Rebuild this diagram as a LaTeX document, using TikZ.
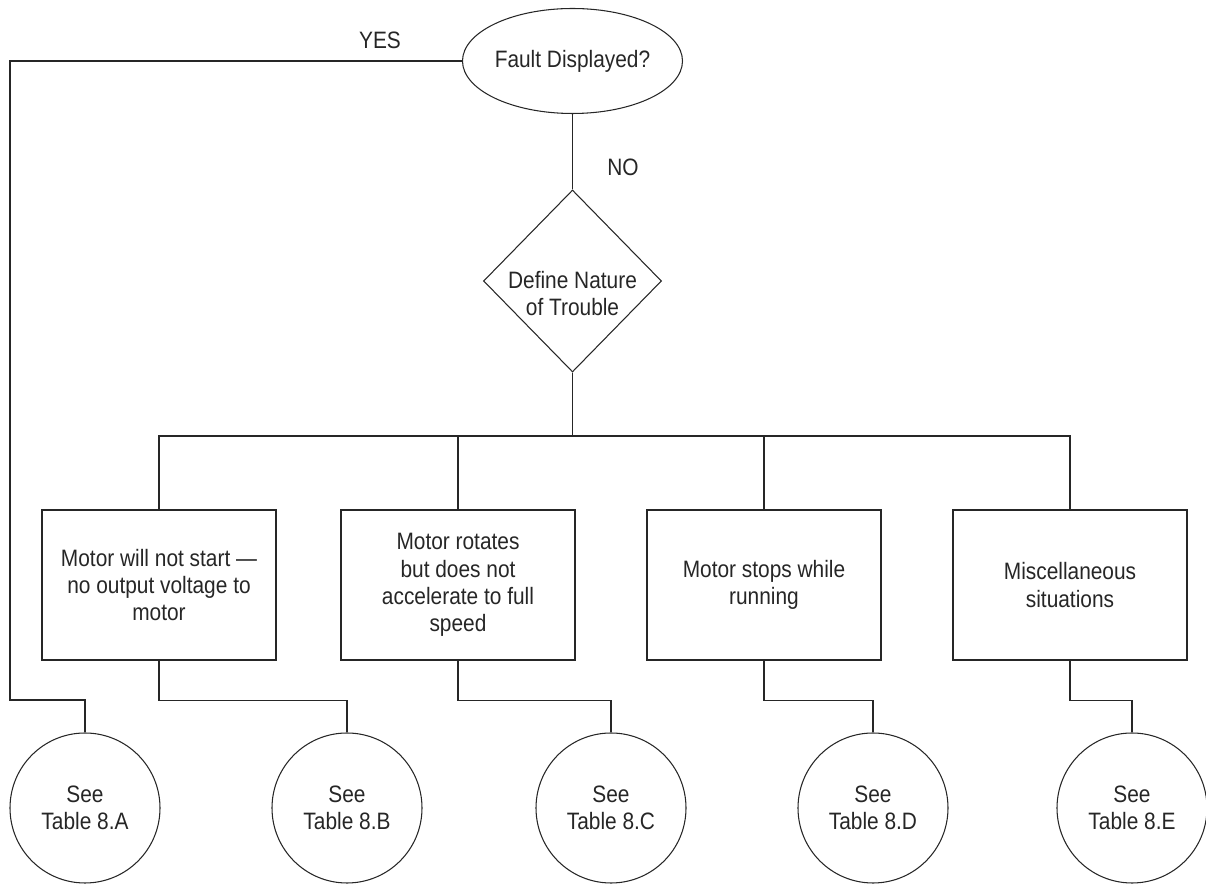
\documentclass[tikz,border=0pt]{standalone}
\usepackage{fontspec}
\setmainfont{Liberation Sans}[FakeStretch=0.88]
\usetikzlibrary{positioning,shapes.geometric}

\begin{document}
\begin{tikzpicture}[line width=0.6pt, color=black!85,
  every node/.style={font=\fontsize{13.5}{15.5}\selectfont},
  fault/.style={draw, ellipse, minimum width=4.4cm, minimum height=2.1cm, inner sep=0pt},
  trouble/.style={draw, diamond, minimum width=3.56cm, minimum height=3.64cm, inner sep=0pt},
  symptom/.style={draw, minimum width=4.68cm, minimum height=3cm, align=center},
  tbl/.style={draw, circle, minimum size=3cm, inner sep=0pt, align=center}]
  \useasboundingbox (0,0) rectangle (24.12,-17.68);

  \node[fault] (f) at (11.45,-1.22) {Fault Displayed?};
  \node[trouble, label={[align=center, yshift=-0.25cm]center:{Define Nature\\ of Trouble}}] (d) at (11.45,-5.62) {};
  \node (yes) at (7.6,-0.8) {YES};
  \node (no) at (12.46,-3.34) {NO};

  \node[symptom] (m1) at (3.18,-11.7) {Motor will not start ---\\ no output voltage to\\ motor};
  \node[symptom] (m2) at (9.16,-11.7) {Motor rotates\\ but does not\\ accelerate to full\\ speed};
  \node[symptom] (m3) at (15.28,-11.7) {Motor stops while\\ running};
  \node[symptom] (m4) at (21.4,-11.7) {Miscellaneous\\ situations};

  \node[tbl] (ta) at (1.7,-16.16) {See\\ Table 8.A};
  \node[tbl] (tb) at (6.94,-16.16) {See\\ Table 8.B};
  \node[tbl] (tc) at (12.22,-16.16) {See\\ Table 8.C};
  \node[tbl] (td) at (17.46,-16.16) {See\\ Table 8.D};
  \node[tbl] (te) at (22.64,-16.16) {See\\ Table 8.E};

  \coordinate (bus) at (11.45,-8.72);
  \coordinate (yl) at (0.2,-14);

  \draw (f) -- (d);
  \draw (d) -- (bus);
  \draw (f.west) -| (yl) -| (ta.north);
  \draw (m1.north) |- (bus) -| (m4.north);
  \foreach \m in {m2,m3}
    \draw (\m.north) -- (\m.north |- bus);
  \foreach \m/\t in {m1/tb, m2/tc, m3/td, m4/te}
    \draw (\m.south) -- ++(0,-0.8) -| (\t.north);
\end{tikzpicture}
\end{document}
